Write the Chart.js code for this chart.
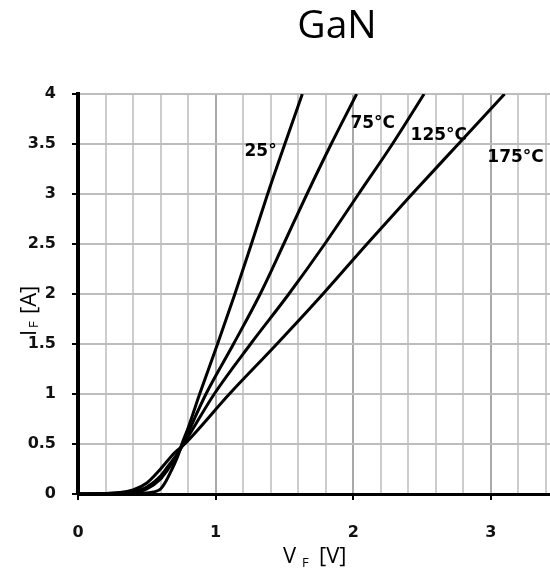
<!DOCTYPE html>
<html>
<head>
<meta charset="utf-8">
<title>GaN forward characteristic</title>
<script src="https://cdn.jsdelivr.net/npm/chart.js@4.4.1/dist/chart.umd.min.js"></script>
<style>
  html, body { margin: 0; padding: 0; background: #fff; overflow: hidden; }
  #wrap { position: relative; width: 550px; height: 572px; }
</style>
</head>
<body>
<div id="wrap"><canvas id="gan_chart"></canvas></div>
<script>
// ====================================================================
// DATA (V_F in volts, I_F in amps)
// ====================================================================

const v25  = [0, 0.3, 0.5, 0.55, 0.6, 0.64, 0.68, 0.72, 0.755, 0.8, 0.884, 1.014, 1.14, 1.26, 1.378, 1.503, 1.63];
const i25  = [0, 0.003, 0.01, 0.02, 0.05, 0.13, 0.24, 0.36, 0.5, 0.66, 1.0, 1.5, 2.0, 2.5, 3.0, 3.5, 4.0];

const v75  = [0, 0.2, 0.4, 0.5, 0.6, 0.65, 0.72, 0.762, 0.93, 1.13, 1.324, 1.495, 1.664, 1.84, 2.025];
const i75  = [0, 0.003, 0.015, 0.05, 0.15, 0.24, 0.38, 0.5, 1.0, 1.5, 2.0, 2.5, 3.0, 3.5, 4.0];

const v125 = [0, 0.3, 0.4, 0.5, 0.6, 0.65, 0.72, 0.768, 0.99, 1.254, 1.532, 1.793, 2.039, 2.285, 2.515];
const i125 = [0, 0.01, 0.025, 0.07, 0.18, 0.27, 0.4, 0.5, 1.0, 1.5, 2.0, 2.5, 3.0, 3.5, 4.0];

const v175 = [0, 0.2, 0.3, 0.4, 0.5, 0.6, 0.7, 0.775, 1.1, 1.445, 1.78, 2.1, 2.428, 2.764, 3.1];
const i175 = [0, 0.005, 0.015, 0.04, 0.11, 0.25, 0.41, 0.5, 1.0, 1.5, 2.0, 2.5, 3.0, 3.5, 4.0];

const seriesNames = ['25°', '75°C', '125°C', '175°C'];

const xTicks = [0, 1, 2, 3];           // labelled V_F ticks
const yTicks = [0, 0.5, 1, 1.5, 2, 2.5, 3, 3.5, 4];

// ====================================================================
// HELPERS
// ====================================================================

function toPoints(vs, is) {
  return vs.map((v, k) => ({ x: v, y: is[k] }));
}

function isWhole(v) {
  return xTicks.some(t => Math.abs(t - v) < 1e-6);
}

const tickFont = { family: 'DejaVu Sans', size: 16, weight: 'bold', lineHeight: 1.2 };

function curve(label, vs, is) {
  return {
    label: label,
    data: toPoints(vs, is),
    showLine: true,
    borderColor: '#000',
    borderWidth: 3,
    pointRadius: 0,
    cubicInterpolationMode: 'monotone',
    fill: false
  };
}

// where each curve's name is written (data coords)
const curveLabelAt = [
  { x: 1.327, y: 3.42 },
  { x: 2.142, y: 3.70 },
  { x: 2.622, y: 3.58 },
  { x: 3.18,  y: 3.365 }
];

// titles, curve names, subscripts
const textPlugin = {
  id: 'ganText',
  afterDatasetsDraw(chart) {
    const ctx = chart.ctx;
    const xs = chart.scales.x, ys = chart.scales.y;
    ctx.save();
    ctx.fillStyle = '#000';

    // curve names
    ctx.font = 'bold 17px "DejaVu Sans"';
    ctx.textAlign = 'center';
    ctx.textBaseline = 'middle';
    seriesNames.forEach((name, k) => {
      const p = curveLabelAt[k];
      ctx.fillText(name, xs.getPixelForValue(p.x), ys.getPixelForValue(p.y));
    });

    // chart title
    ctx.textBaseline = 'alphabetic';
    ctx.font = '39px "Open Sans"';
    ctx.fillText('GaN', 337, 38);

    // x title: V_F [V]
    ctx.textAlign = 'left';
    ctx.font = '22px "Open Sans"';
    ctx.fillText('V', 283, 563);
    ctx.font = '13px "Open Sans"';
    ctx.fillText('F', 302, 567);
    ctx.font = '22px "Open Sans"';
    ctx.fillText('[V]', 319, 563);

    // y title: I_F [A], rotated
    ctx.translate(36, 0);
    ctx.rotate(-Math.PI / 2);
    ctx.font = '22px "Open Sans"';
    ctx.fillText('I', -336, 0);
    ctx.font = '13px "Open Sans"';
    ctx.fillText('F', -328, 2);
    ctx.font = '22px "Open Sans"';
    ctx.fillText('[A]', -314, 0);

    ctx.restore();
  }
};

// ====================================================================
// CHART
// ====================================================================

const canvas = document.getElementById('gan_chart');

new Chart(canvas.getContext('2d'), {
  type: 'scatter',
  data: {
    datasets: [
      curve(seriesNames[0], v25, i25),
      curve(seriesNames[1], v75, i75),
      curve(seriesNames[2], v125, i125),
      curve(seriesNames[3], v175, i175)
    ]
  },
  options: {
    responsive: true,
    maintainAspectRatio: false,
    animation: false,
    layout: { padding: { top: 94, left: 0, right: 0, bottom: 0 } },
    plugins: {
      legend: { display: false },
      tooltip: { enabled: false },
      title: { display: false }
    },
    scales: {
      x: {
        type: 'linear',
        min: 0,
        max: 3.43,
        afterFit: s => { s.height = 78; },
        ticks: {
          stepSize: 0.2,
          includeBounds: false,
          autoSkip: false,
          maxRotation: 0,
          padding: 4,
          color: '#111',
          font: tickFont,
          // blank first line pushes the number down, away from the axis
          callback: v => isWhole(v) ? ['', String(Math.round(v))] : ''
        },
        grid: {
          color: c => isWhole(c.tick.value) ? '#a9a9a9' : '#cdcdcd',
          lineWidth: 2,
          tickLength: 6,
          tickWidth: 2,
          tickColor: c => isWhole(c.tick.value) ? '#000' : 'rgba(0,0,0,0)'
        },
        border: { color: '#000', width: 3 }
      },
      y: {
        min: 0,
        max: 4,
        afterFit: s => { s.width = 78; },
        afterBuildTicks: s => { s.ticks = yTicks.map(v => ({ value: v })); },
        ticks: {
          padding: 16,
          color: '#111',
          font: tickFont,
          callback: v => String(v)
        },
        grid: {
          color: '#bdbdbd',
          lineWidth: 2,
          tickLength: 6,
          tickWidth: 2,
          tickColor: '#000'
        },
        border: { color: '#000', width: 4 }
      }
    }
  },
  plugins: [textPlugin]
});
</script>
</body>
</html>
